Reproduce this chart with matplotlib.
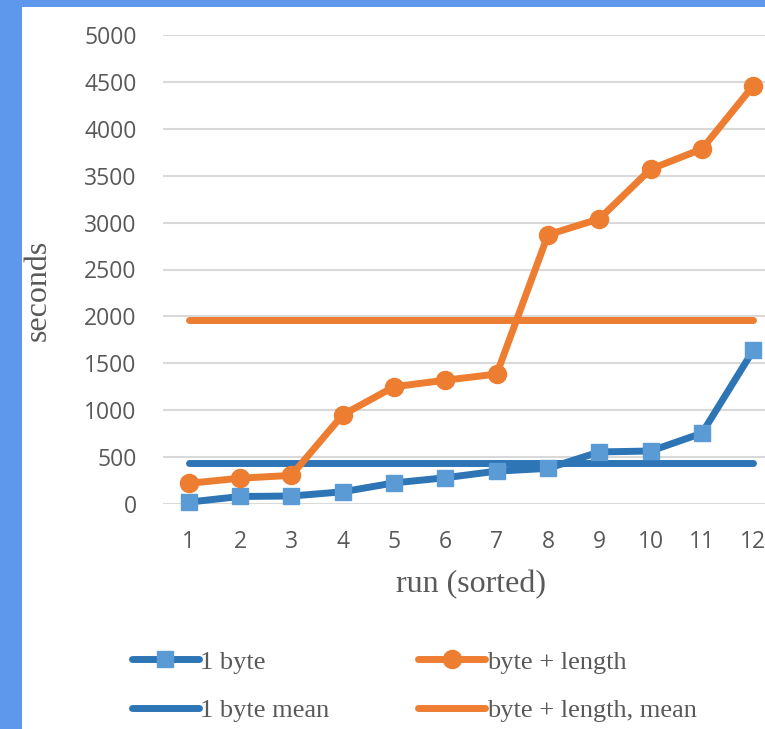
import matplotlib.pyplot as plt
from matplotlib.patches import Rectangle

# run times, sorted, in seconds
runs = list(range(1, 13))
one_byte = [20, 80, 85, 130, 225, 280, 350, 380, 555, 565, 755, 1640]
byte_length = [220, 275, 305, 950, 1250, 1320, 1385, 2870, 3040, 3570, 3785, 4460]
one_byte_mean = 435
byte_length_mean = 1960

BLUE = '#2E75B6'
BLUE_MARK = '#5B9BD5'
ORANGE = '#ED7D31'
GRAY = '#595959'

fig = plt.figure(figsize=(7.65, 7.29), dpi=100)
fig.patch.set_facecolor('#5E98EC')
fig.patches.append(Rectangle((22 / 765, 0), 1, 1 - 7 / 729, transform=fig.transFigure,
                             facecolor='white', edgecolor='none', zorder=-1))

ax = fig.add_axes([163 / 765, 1 - 504 / 729, 616 / 765, 469 / 729])
ax.set_facecolor('none')

ax.plot(runs, one_byte, color=BLUE, lw=5, marker='s', ms=12, mfc=BLUE_MARK, mec=BLUE_MARK,
        solid_capstyle='round', label='1 byte', clip_on=False, zorder=4)
ax.plot(runs, byte_length, color=ORANGE, lw=5, marker='o', ms=13, mfc=ORANGE, mec=ORANGE,
        solid_capstyle='round', label='byte + length', clip_on=False, zorder=4)
ax.plot([runs[0], runs[-1]], [one_byte_mean] * 2, color=BLUE, lw=5, solid_capstyle='round',
        label='1 byte mean', zorder=3)
ax.plot([runs[0], runs[-1]], [byte_length_mean] * 2, color=ORANGE, lw=5, solid_capstyle='round',
        label='byte + length, mean', zorder=3)

ax.set_xlim(0.5, 12.5)
ax.set_ylim(0, 5000)
ax.set_yticks(range(0, 5001, 500))
ax.set_xticks(runs)
ax.grid(axis='y', color='#D9D9D9', lw=1.5)
ax.set_axisbelow(True)
for s in ax.spines.values():
    s.set_visible(False)
ax.tick_params(length=0, labelsize=16.5, labelcolor=GRAY, pad=19)
for lab in ax.get_xticklabels() + ax.get_yticklabels():
    lab.set_fontfamily('Open Sans')

ax.set_ylabel('seconds', family='Liberation Serif', fontsize=23, color=GRAY)
ax.yaxis.set_label_coords(-0.179, 0.455)
ax.set_xlabel('run (sorted)', family='Liberation Serif', fontsize=23, color=GRAY, labelpad=11)

handles, labels = ax.get_legend_handles_labels()
order = [0, 2, 1, 3]
leg = fig.legend([handles[i] for i in order], [labels[i] for i in order], ncol=2,
                 loc='lower left', bbox_to_anchor=(108 / 765, -17 / 729), frameon=False,
                 handlelength=2.55, handletextpad=0.05, columnspacing=3.35, labelspacing=0.95,
                 prop={'family': 'Liberation Serif', 'size': 19})
for t in leg.get_texts():
    t.set_color(GRAY)

fig.savefig('out.png', dpi=100)
